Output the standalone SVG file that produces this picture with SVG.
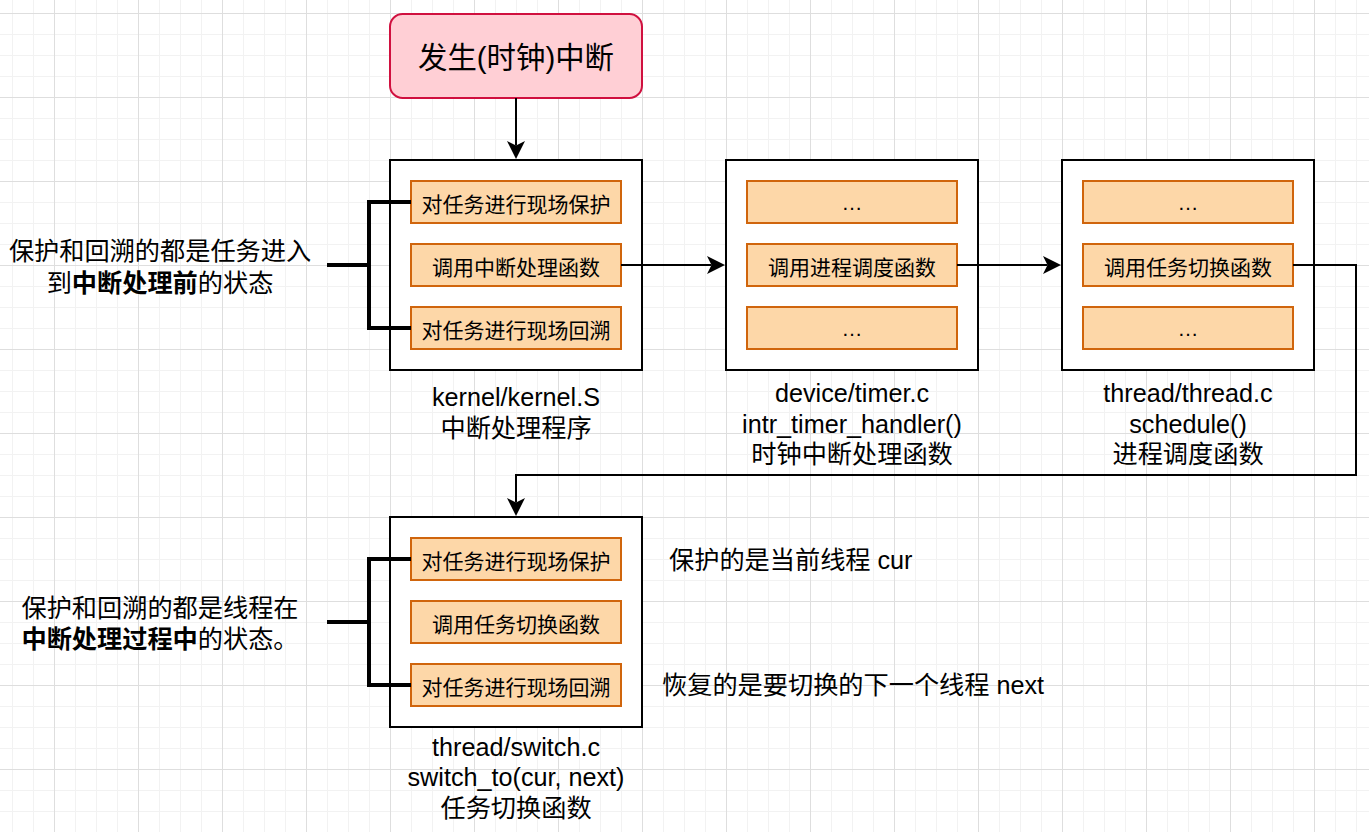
<svg xmlns="http://www.w3.org/2000/svg" width="1369" height="832" viewBox="0 0 1369 832">
<defs>
<pattern id="grid" x="12" y="13" width="84" height="84" patternUnits="userSpaceOnUse">
<path d="M0.5 0V84M21.5 0V84M63.5 0V84M0 21.5H84M0 42.5H84M0 63.5H84" stroke="#f2f2f2" stroke-width="1" fill="none"/>
<path d="M42.5 0V84M0 0.5H84" stroke="#dedede" stroke-width="1" fill="none"/>
</pattern>
<marker id="arr" viewBox="-19 -10 20 20" refX="-13.5" refY="0" markerWidth="20" markerHeight="20" orient="auto" markerUnits="userSpaceOnUse">
<path d="M0,0 L-18,-9 L-13.5,0 L-18,9 Z" fill="#000"/>
</marker>
</defs>
<style>
.frame{fill:#fff;stroke:#000;stroke-width:2}
.item{fill:#fdd7a8;stroke:#d0650c;stroke-width:2}
.t21{font-family:"Liberation Sans","Noto Sans CJK SC",sans-serif;font-size:21px;fill:#000;text-anchor:middle}
.t25{font-family:"Liberation Sans","Noto Sans CJK SC",sans-serif;font-size:25.2px;fill:#000;text-anchor:middle}
.t25s{font-family:"Liberation Sans","Noto Sans CJK SC",sans-serif;font-size:25.2px;fill:#000}
.b{font-weight:bold}
.conn{fill:none;stroke:#000;stroke-width:2}
.brk{fill:none;stroke:#000;stroke-width:4}
</style>
<rect width="1369" height="832" fill="#fff"/>
<rect width="1369" height="832" fill="url(#grid)"/>

<g id="start">
<rect x="390" y="14" width="252" height="84" rx="12.6" ry="12.6" fill="#ffcfd5" stroke="#d0103f" stroke-width="2"/>
<text x="516" y="67.5" style="font-family:'Liberation Sans','Noto Sans CJK SC',sans-serif;font-size:29.4px;text-anchor:middle">发生(时钟)中断</text>
</g>

<g id="kernel">
<rect class="frame" x="390" y="160" width="252" height="210"/>
<rect class="item" x="411" y="181" width="210" height="42"/>
<text class="t21" x="516" y="212">对任务进行现场保护</text>
<rect class="item" x="411" y="244" width="210" height="42"/>
<text class="t21" x="516" y="275">调用中断处理函数</text>
<rect class="item" x="411" y="307" width="210" height="42"/>
<text class="t21" x="516" y="338">对任务进行现场回溯</text>
<text class="t25" x="516" y="406">kernel/kernel.S</text>
<text class="t25" x="516" y="437">中断处理程序</text>
</g>

<g id="timer">
<rect class="frame" x="726" y="160" width="252" height="210"/>
<rect class="item" x="747" y="181" width="210" height="42"/>
<text class="t21" x="852" y="210">…</text>
<rect class="item" x="747" y="244" width="210" height="42"/>
<text class="t21" x="852" y="275">调用进程调度函数</text>
<rect class="item" x="747" y="307" width="210" height="42"/>
<text class="t21" x="852" y="336">…</text>
<text class="t25" x="852" y="402">device/timer.c</text>
<text class="t25" x="852" y="432.5">intr_timer_handler()</text>
<text class="t25" x="852" y="462.5">时钟中断处理函数</text>
</g>

<g id="schedule">
<rect class="frame" x="1062" y="160" width="252" height="210"/>
<rect class="item" x="1083" y="181" width="210" height="42"/>
<text class="t21" x="1188" y="210">…</text>
<rect class="item" x="1083" y="244" width="210" height="42"/>
<text class="t21" x="1188" y="275">调用任务切换函数</text>
<rect class="item" x="1083" y="307" width="210" height="42"/>
<text class="t21" x="1188" y="336">…</text>
<text class="t25" x="1188" y="402">thread/thread.c</text>
<text class="t25" x="1188" y="432.5">schedule()</text>
<text class="t25" x="1188" y="462.5">进程调度函数</text>
</g>

<g id="switch">
<rect class="frame" x="390" y="517" width="252" height="210"/>
<rect class="item" x="411" y="538" width="210" height="42"/>
<text class="t21" x="516" y="569">对任务进行现场保护</text>
<rect class="item" x="411" y="601" width="210" height="42"/>
<text class="t21" x="516" y="632">调用任务切换函数</text>
<rect class="item" x="411" y="664" width="210" height="42"/>
<text class="t21" x="516" y="695">对任务进行现场回溯</text>
<text class="t25" x="516" y="756">thread/switch.c</text>
<text class="t25" x="516" y="786">switch_to(cur, next)</text>
<text class="t25" x="516" y="816.5">任务切换函数</text>
</g>

<g id="note-top">
<text class="t25" x="160" y="260">保护和回溯的都是任务进入</text>
<text class="t25" x="160" y="292">到<tspan class="b">中断处理前</tspan>的状态</text>
</g>

<g id="note-bottom">
<text class="t25" x="160" y="617">保护和回溯的都是线程在</text>
<text class="t25" x="160" y="648"><tspan class="b">中断处理过程中</tspan>的状态。</text>
</g>

<g id="note-cur">
<text class="t25s" x="669" y="568.5">保护的是当前线程 cur</text>
</g>
<g id="note-next">
<text class="t25s" x="662" y="693.5">恢复的是要切换的下一个线程 next</text>
</g>

<g id="connectors">
<path class="conn" d="M516 98V145.5" marker-end="url(#arr)"/>
<path class="conn" d="M621 265H711.5" marker-end="url(#arr)"/>
<path class="conn" d="M957 265H1047.5" marker-end="url(#arr)"/>
<path class="conn" d="M1293 265H1356V475H516V502.5" marker-end="url(#arr)"/>
<path class="brk" d="M327 265H369M411 202H369V328H411"/>
<path class="brk" d="M327 622H369M411 559H369V685H411"/>
</g>
</svg>
